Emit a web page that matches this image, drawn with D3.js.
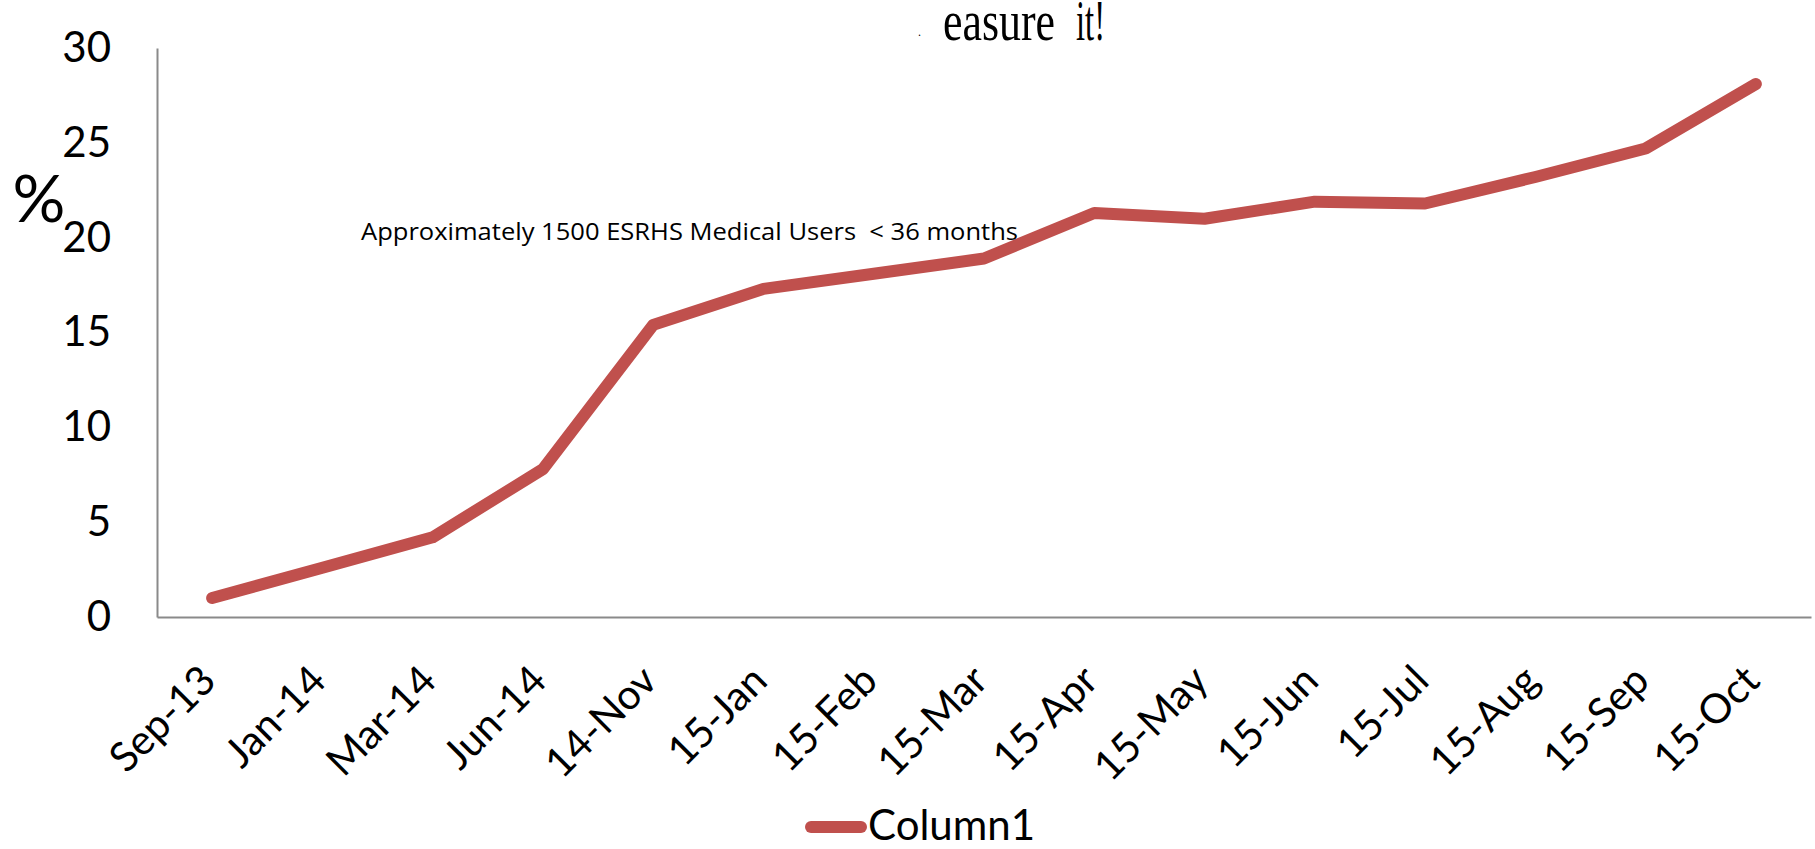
<!DOCTYPE html>
<html>
<head>
<meta charset="utf-8">
<script src="https://cdn.jsdelivr.net/npm/d3@7"></script>
<style>
    body { margin: 0; background: #fff; }
    svg { display: block; }
</style>
</head>
<body>
<svg id="chart" width="1815" height="849"></svg>
<script>
// months and share of medical users (%)
let months = ["Sep-13", "Jan-14", "Mar-14", "Jun-14", "14-Nov", "15-Jan", "15-Feb", "15-Mar",
              "15-Apr", "15-May", "15-Jun", "15-Jul", "15-Aug", "15-Sep", "15-Oct"];
let column1 = [1.0, 2.6, 4.2, 7.8, 15.4, 17.3, 18.1, 18.9, 21.3, 21.0, 21.9, 21.8, 23.2, 24.7, 28.1];
let yTicks = [0, 5, 10, 15, 20, 25, 30];
let seriesName = "Column1";
let note = "Approximately 1500 ESRHS Medical Users  < 36 months";

let svg = d3.select("#chart");
let lineColour = "#C0504D";
let axisColour = "#8a8a8a";
let font = "Lato, 'Open Sans', sans-serif";

// scales
let x = d3.scaleBand().domain(months).range([157, 1811]);
let y = d3.scaleLinear().domain([0, 30]).range([617, 48]);

// y axis
let axisY = d3.axisLeft(y).tickValues(yTicks).tickSize(0).tickSizeOuter(0).tickPadding(46);
let gY = svg.append("g").attr("transform", "translate(157,0)").call(axisY);
gY.select(".domain").attr("stroke", axisColour).attr("stroke-width", 2);
gY.selectAll("text").style("font-family", font).style("font-size", "42px").attr("fill", "#000");

// x axis
let axisX = d3.axisBottom(x).tickSize(0).tickSizeOuter(0);
let gX = svg.append("g").attr("transform", "translate(0,617)").call(axisX);
gX.select(".domain").attr("stroke", axisColour).attr("stroke-width", 2);
gX.selectAll("text")
    .attr("x", 0).attr("y", 0).attr("dy", 0)
    .attr("transform", "translate(6,66) rotate(-45)")
    .style("text-anchor", "end")
    .style("font-family", font).style("font-size", "41px")
    .attr("fill", "#000");

// the line
let line = d3.line()
    .x((d, i) => x(months[i]) + x.bandwidth() / 2)
    .y(d => y(d));

svg.append("path")
    .datum(column1)
    .attr("d", line)
    .attr("fill", "none")
    .attr("stroke", lineColour)
    .attr("stroke-width", 12)
    .attr("stroke-linecap", "round")
    .attr("stroke-linejoin", "round");

// % label
svg.append("text")
    .attr("x", 39).attr("y", 222)
    .attr("text-anchor", "middle")
    .style("font-family", font).style("font-size", "66px")
    .text("%");

// note
svg.append("text")
    .attr("x", 361).attr("y", 240)
    .attr("textLength", 657).attr("lengthAdjust", "spacingAndGlyphs")
    .style("white-space", "pre")
    .style("font-family", "'Open Sans', sans-serif").style("font-size", "24px")
    .text(note);

// cut off title
svg.append("text")
    .attr("x", 918).attr("y", 36)
    .style("font-family", "'Liberation Serif', serif").style("font-size", "12px")
    .text(".");
svg.append("text")
    .attr("x", 943).attr("y", 40)
    .attr("textLength", 112).attr("lengthAdjust", "spacingAndGlyphs")
    .style("font-family", "'Liberation Serif', serif").style("font-size", "56px")
    .text("easure");
svg.append("text")
    .attr("x", 1076).attr("y", 40)
    .attr("textLength", 29).attr("lengthAdjust", "spacingAndGlyphs")
    .style("font-family", "'Liberation Serif', serif").style("font-size", "56px")
    .text("it!");

// legend
svg.append("line")
    .attr("x1", 811).attr("x2", 861)
    .attr("y1", 827).attr("y2", 827)
    .attr("stroke", lineColour).attr("stroke-width", 12)
    .attr("stroke-linecap", "round");
svg.append("text")
    .attr("x", 868).attr("y", 840)
    .style("font-family", font).style("font-size", "42px")
    .text(seriesName);
</script>
</body>
</html>
